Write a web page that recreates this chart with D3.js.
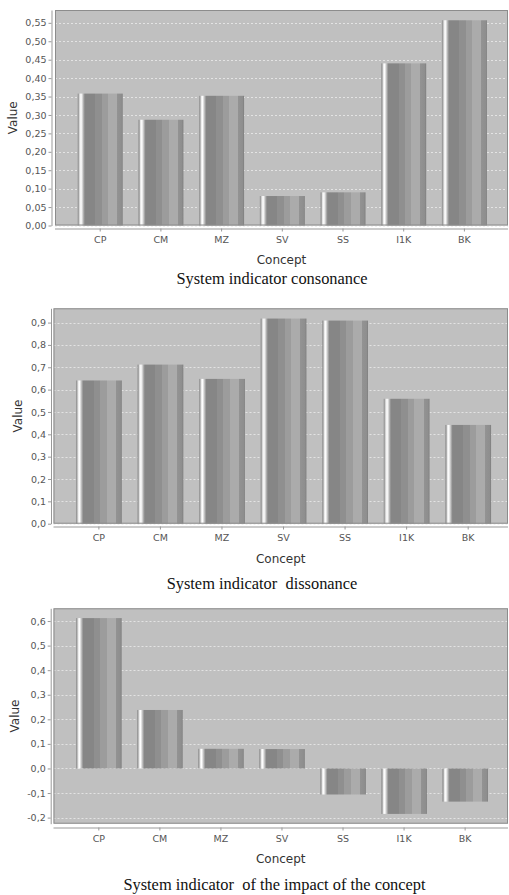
<!DOCTYPE html>
<html>
<head>
<meta charset="utf-8">
<script src="https://cdn.jsdelivr.net/npm/d3@7"></script>
<style>
  html, body { margin: 0; padding: 0; background: #ffffff; }
  svg { display: block; }
</style>
</head>
<body>
<svg id="chart" width="509" height="895"></svg>
<script>
const categories = ["CP", "CM", "MZ", "SV", "SS", "I1K", "BK"];
const consonance = [0.358, 0.287, 0.352, 0.080, 0.090, 0.440, 0.557];
const dissonance = [0.641, 0.712, 0.648, 0.918, 0.909, 0.559, 0.442];
const impact = [0.612, 0.238, 0.080, 0.079, -0.106, -0.185, -0.135];

const ticksConsonance = [0, 0.05, 0.10, 0.15, 0.20, 0.25, 0.30, 0.35, 0.40, 0.45, 0.50, 0.55];
const ticksDissonance = [0, 0.1, 0.2, 0.3, 0.4, 0.5, 0.6, 0.7, 0.8, 0.9];
const ticksImpact = [-0.2, -0.1, 0, 0.1, 0.2, 0.3, 0.4, 0.5, 0.6];

const captions = [
  "System indicator consonance",
  "System indicator  dissonance",
  "System indicator  of the impact of the concept"
];
const yTitle = "Value";
const xTitle = "Concept";

const locale = d3.formatLocale({decimal: ",", thousands: ".", grouping: [3], currency: ["", ""], minus: "-"});

const svg = d3.select("#chart");

// bar gradient (cylinder-like stripes)
const defs = svg.append("defs");
const grad = defs.append("linearGradient").attr("id", "barGrad")
  .attr("x1", 0).attr("x2", 1).attr("y1", 0).attr("y2", 0);
const stops = [
  [0.00, "#8e8e8e"], [0.025, "#a8a8a8"], [0.045, "#e6e6e6"], [0.075, "#ffffff"],
  [0.105, "#d6d6d6"], [0.13, "#acacac"], [0.16, "#868686"], [0.385, "#868686"],
  [0.385, "#8f8f8f"], [0.53, "#8f8f8f"], [0.53, "#9c9c9c"], [0.67, "#9c9c9c"],
  [0.67, "#ababab"], [0.87, "#ababab"], [0.87, "#939393"], [0.97, "#8e8e8e"], [1.0, "#7c7c7c"]
];
stops.forEach(s => grad.append("stop").attr("offset", s[0]).attr("stop-color", s[1]));

const panels = [
  {values: consonance, ticks: ticksConsonance, fmt: locale.format(".2f"), caption: captions[0],
   top: 10, bottom: 225.5, left: 55, right: 508, axisX: 51.5, axisY: 228.5,
   band: [69.85, 494.75], pad: 0.259, xTitleY: 264, capX: 272, capY: 283.5, yTitleX: 13},
  {values: dissonance, ticks: ticksDissonance, fmt: locale.format(".1f"), caption: captions[1],
   top: 308.3, bottom: 523.7, left: 53.5, right: 508, axisX: 51, axisY: 526.5,
   band: [68.1, 498.95], pad: 0.256, xTitleY: 563, capX: 262, capY: 588.5, yTitleX: 18},
  {values: impact, ticks: ticksImpact, fmt: locale.format(".1f"), caption: captions[2],
   top: 608.3, bottom: 823.7, left: 53.5, right: 508, axisX: 50.7, axisY: 827.5,
   band: [68.3, 495.65], pad: 0.253, xTitleY: 863, capX: 274.5, capY: 890, yTitleX: 15}
];

panels.forEach(p => {
  const g = svg.append("g");
  const [mn, mx] = d3.extent(p.values);
  let lo, hi;
  if (mn >= 0) { lo = 0; hi = mx * 1.05; }
  else { const r = mx - mn; lo = mn - 0.05 * r; hi = mx + 0.05 * r; }

  const y = d3.scaleLinear().domain([lo, hi]).range([p.bottom, p.top]);
  const x = d3.scaleBand().domain(categories).range(p.band)
    .paddingInner(p.pad).paddingOuter(p.pad / 2);

  // plot background
  g.append("rect").attr("x", p.left).attr("y", p.top)
    .attr("width", p.right - p.left).attr("height", p.bottom - p.top)
    .attr("fill", "#c0c0c0");

  // gridlines
  g.selectAll(".grid").data(p.ticks).enter().append("line")
    .attr("x1", p.left).attr("x2", p.right)
    .attr("y1", d => Math.round(y(d)) + 0.5).attr("y2", d => Math.round(y(d)) + 0.5)
    .attr("stroke", "#ececec").attr("stroke-width", 0.8).attr("stroke-dasharray", "2,2");

  // bars
  g.selectAll(".bar").data(p.values).enter().append("rect")
    .attr("x", (d, i) => x(categories[i]))
    .attr("width", x.bandwidth())
    .attr("y", d => y(Math.max(0, d)))
    .attr("height", d => Math.abs(y(d) - y(0)))
    .attr("fill", "url(#barGrad)");

  // plot outline
  g.append("rect").attr("x", p.left + 0.5).attr("y", p.top + 0.5)
    .attr("width", p.right - p.left - 1).attr("height", p.bottom - p.top - 1)
    .attr("fill", "none").attr("stroke", "#8c8c8c").attr("stroke-width", 1);

  // y axis
  const yAxis = d3.axisLeft(y).tickValues(p.ticks).tickFormat(p.fmt).tickSizeInner(3).tickSizeOuter(0).tickPadding(2);
  const ya = g.append("g").attr("transform", `translate(${p.axisX},0)`).call(yAxis);
  ya.select(".domain").attr("stroke", "#999");
  ya.selectAll(".tick line").attr("stroke", "#999");
  ya.selectAll(".tick text").attr("fill", "#555").style("font-family", "DejaVu Sans")
    .style("font-size", "9.5px");

  // x axis
  const xAxis = d3.axisBottom(x).tickSizeInner(3).tickSizeOuter(0).tickPadding(5);
  const xa = g.append("g").attr("transform", `translate(0,${p.axisY})`).call(xAxis);
  xa.select(".domain").attr("d", `M${p.left},0.5H${p.right}`).attr("stroke", "#999");
  xa.selectAll(".tick line").attr("stroke", "#999");
  xa.selectAll(".tick text").attr("fill", "#555").style("font-family", "DejaVu Sans")
    .style("font-size", "9.5px");

  // axis titles
  g.append("text").attr("transform", `translate(${p.yTitleX + 4},${(p.top + p.bottom) / 2}) rotate(-90)`)
    .attr("text-anchor", "middle").attr("fill", "#333")
    .style("font-family", "DejaVu Sans").style("font-size", "12px").text(yTitle);
  g.append("text").attr("x", (p.left + p.right) / 2).attr("y", p.xTitleY)
    .attr("text-anchor", "middle").attr("fill", "#333")
    .style("font-family", "DejaVu Sans").style("font-size", "12px").text(xTitle);

  // caption
  g.append("text").attr("x", p.capX).attr("y", p.capY)
    .attr("text-anchor", "middle").attr("fill", "#111")
    .style("font-family", "Liberation Serif").style("font-size", "16.4px")
    .style("white-space", "pre").text(p.caption);
});
</script>
</body>
</html>
